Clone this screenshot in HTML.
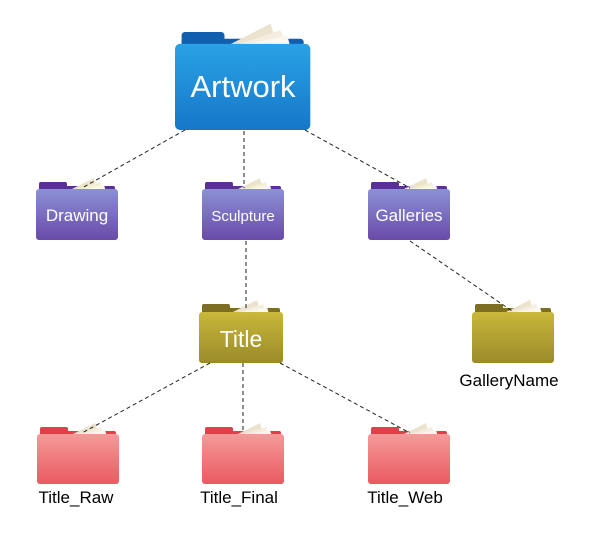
<!DOCTYPE html>
<html><head><meta charset="utf-8"><style>
html,body{margin:0;padding:0;background:#fff;}
svg{display:block;}
text{font-family:"Liberation Sans",sans-serif;}
</style></head><body>
<svg width="600" height="540" viewBox="0 0 600 540" xmlns="http://www.w3.org/2000/svg">
<defs>
<linearGradient id="gb" x1="0" y1="0" x2="0" y2="1"><stop offset="0" stop-color="#2aa2e6"/><stop offset="1" stop-color="#1677c9"/></linearGradient>
<linearGradient id="gp" x1="0" y1="0" x2="0" y2="1"><stop offset="0" stop-color="#8b91d6"/><stop offset="1" stop-color="#6a4aa8"/></linearGradient>
<linearGradient id="gy" x1="0" y1="0" x2="0" y2="1"><stop offset="0" stop-color="#c9b83a"/><stop offset="1" stop-color="#9a8a2a"/></linearGradient>
<linearGradient id="gr" x1="0" y1="0" x2="0" y2="1"><stop offset="0" stop-color="#f59a9a"/><stop offset="1" stop-color="#ea5a60"/></linearGradient>
<g id="papers">
<polygon points="32,8 58,-5 61,6" fill="#ece3cf"/>
<polygon points="36,8 64,-1 67,8" fill="#f4ede0"/>
<polygon points="40,8 68,2 70,9" fill="#fbf7ee"/>
</g>
</defs>
<!-- Artwork -->
<g transform="translate(175,32) scale(1.65,1.69)">
<rect x="4" y="0" width="26" height="10" rx="2" fill="#1160b0"/>
<rect x="4" y="4" width="74" height="10" rx="2" fill="#1160b0"/>
<use href="#papers"/>
<rect x="0" y="7" width="82" height="51" rx="3" fill="url(#gb)"/>
</g>
<text x="243" y="97" font-size="31" fill="#fff" text-anchor="middle">Artwork</text>
<!-- purple -->
<g transform="translate(36,182)"><rect x="3" y="0" width="28" height="10" rx="2" fill="#5a2f98"/><rect x="3" y="4" width="76" height="10" rx="2" fill="#5a2f98"/><use href="#papers" transform="translate(0,1)"/><rect x="0" y="7" width="82" height="51" rx="3" fill="url(#gp)"/></g>
<g transform="translate(202,182)"><rect x="3" y="0" width="28" height="10" rx="2" fill="#5a2f98"/><rect x="3" y="4" width="76" height="10" rx="2" fill="#5a2f98"/><use href="#papers" transform="translate(0,1)"/><rect x="0" y="7" width="82" height="51" rx="3" fill="url(#gp)"/></g>
<g transform="translate(368,182)"><rect x="3" y="0" width="28" height="10" rx="2" fill="#5a2f98"/><rect x="3" y="4" width="76" height="10" rx="2" fill="#5a2f98"/><use href="#papers" transform="translate(0,1)"/><rect x="0" y="7" width="82" height="51" rx="3" fill="url(#gp)"/></g>
<text x="77" y="221" font-size="17" fill="#fff" text-anchor="middle">Drawing</text>
<text x="243" y="221" font-size="15" fill="#fff" text-anchor="middle">Sculpture</text>
<text x="409" y="221" font-size="17" fill="#fff" text-anchor="middle">Galleries</text>
<!-- yellow -->
<g transform="translate(199,304)"><rect x="3" y="0" width="28" height="11" rx="2" fill="#7d6e22"/><rect x="3" y="4" width="78" height="10" rx="2" fill="#7d6e22"/><use href="#papers" transform="translate(0,1)"/><rect x="0" y="8" width="84" height="51" rx="3" fill="url(#gy)"/></g>
<text x="241" y="347" font-size="23" fill="#fff" text-anchor="middle">Title</text>
<g transform="translate(472,304)"><rect x="3" y="0" width="28" height="11" rx="2" fill="#7d6e22"/><rect x="3" y="4" width="76" height="10" rx="2" fill="#7d6e22"/><use href="#papers" transform="translate(0,1)"/><rect x="0" y="8" width="82" height="51" rx="3" fill="url(#gy)"/></g>
<text x="509" y="386" font-size="17" fill="#000" text-anchor="middle">GalleryName</text>
<!-- red -->
<g transform="translate(37,427)"><rect x="3" y="0" width="28" height="10" rx="2" fill="#e0404a"/><rect x="3" y="4" width="76" height="10" rx="2" fill="#e0404a"/><use href="#papers" transform="translate(0,1)"/><rect x="0" y="7" width="82" height="50" rx="3" fill="url(#gr)"/></g>
<g transform="translate(202,427)"><rect x="3" y="0" width="28" height="10" rx="2" fill="#e0404a"/><rect x="3" y="4" width="76" height="10" rx="2" fill="#e0404a"/><use href="#papers" transform="translate(0,1)"/><rect x="0" y="7" width="82" height="50" rx="3" fill="url(#gr)"/></g>
<g transform="translate(368,427)"><rect x="3" y="0" width="28" height="10" rx="2" fill="#e0404a"/><rect x="3" y="4" width="76" height="10" rx="2" fill="#e0404a"/><use href="#papers" transform="translate(0,1)"/><rect x="0" y="7" width="82" height="50" rx="3" fill="url(#gr)"/></g>
<text x="76" y="503" font-size="17" fill="#000" text-anchor="middle">Title_Raw</text>
<text x="239" y="503" font-size="17" fill="#000" text-anchor="middle">Title_Final</text>
<text x="405" y="503" font-size="17" fill="#000" text-anchor="middle">Title_Web</text>
<g stroke="#222" stroke-width="1" stroke-dasharray="4,3" fill="none">
<line x1="185" y1="130" x2="82" y2="188"/>
<line x1="244" y1="131" x2="244" y2="188"/>
<line x1="305" y1="130" x2="410" y2="188"/>
<line x1="246" y1="241" x2="246" y2="311"/>
<line x1="410" y1="241" x2="512" y2="311"/>
<line x1="210" y1="363" x2="82" y2="433"/>
<line x1="243" y1="363" x2="243" y2="433"/>
<line x1="280" y1="363" x2="410" y2="433"/>
</g>
</svg>
</body></html>
